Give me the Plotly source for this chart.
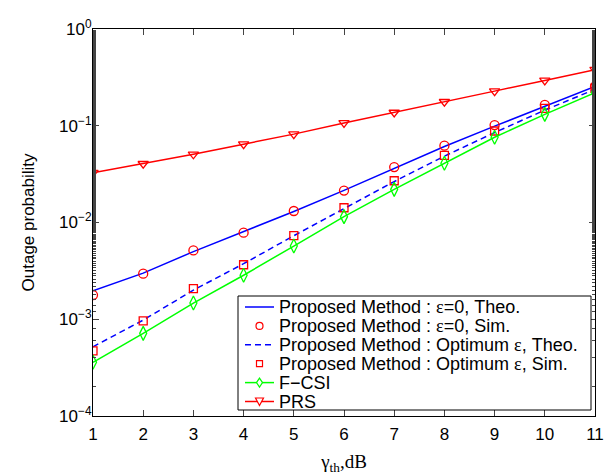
import plotly.graph_objects as go

gamma_th = [1, 2, 3, 4, 5, 6, 7, 8, 9, 10, 11]

eps0_theo = [0.00197, 0.0030, 0.0050, 0.0080, 0.0130, 0.0215, 0.0365, 0.0610, 0.0990, 0.160, 0.255]
eps0_sim = [0.00178, 0.00296, 0.00515, 0.00785, 0.01315, 0.0214, 0.0374, 0.0623, 0.1016, 0.164, 0.255]
opt_theo = [0.00052, 0.00098, 0.00200, 0.00375, 0.0073, 0.0140, 0.0265, 0.0485, 0.0850, 0.145, 0.238]
opt_sim = [0.00047, 0.00096, 0.00207, 0.00366, 0.0073, 0.0142, 0.0270, 0.0494, 0.0883, 0.151, 0.244]
fcsi = [0.000359, 0.000715, 0.00147, 0.00285, 0.00571, 0.0115, 0.0220, 0.0409, 0.0760, 0.131, 0.220]
prs = [0.0327, 0.0405, 0.0507, 0.0645, 0.0819, 0.107, 0.137, 0.177, 0.228, 0.294, 0.380]

EPS = '<span style="font-family:Liberation Serif, Times New Roman, serif">ε</span>'
names = [
    "Proposed Method : ε=0, Theo.",
    "Proposed Method : ε=0, Sim.",
    "Proposed Method : Optimum ε, Theo.",
    "Proposed Method : Optimum ε, Sim.",
    "F\u2212CSI",
    "PRS",
]

y_tickvals = [1e-4, 1e-3, 1e-2, 1e-1, 1]
y_ticktext = ["10<sup>\u22124</sup>", "10<sup>\u22123</sup>", "10<sup>\u22122</sup>",
              "10<sup>\u22121</sup>", "10<sup>0</sup>"]

BLUE, RED, GREEN = "#0000FF", "#FF0000", "#00FF00"
DASH = "6px,4px"

fig = go.Figure()
fig.add_trace(go.Scatter(x=gamma_th, y=eps0_theo, name=names[0], mode="lines",
                         line=dict(color=BLUE, width=1.5)))
fig.add_trace(go.Scatter(x=gamma_th, y=eps0_sim, name=names[1], mode="markers",
                         marker=dict(symbol="circle-open", color=RED, size=9,
                                     line=dict(width=1.3, color=RED))))
fig.add_trace(go.Scatter(x=gamma_th, y=opt_theo, name=names[2], mode="lines",
                         line=dict(color=BLUE, width=1.5, dash=DASH)))
fig.add_trace(go.Scatter(x=gamma_th, y=opt_sim, name=names[3], mode="markers",
                         marker=dict(symbol="square-open", color=RED, size=8,
                                     line=dict(width=1.3, color=RED))))
fig.add_trace(go.Scatter(x=gamma_th, y=fcsi, name=names[4], mode="lines+markers",
                         line=dict(color=GREEN, width=1.5),
                         marker=dict(symbol="diamond-tall-open", color=GREEN, size=10,
                                     line=dict(width=1.3, color=GREEN))))
fig.add_trace(go.Scatter(x=gamma_th, y=prs, name=names[5], mode="lines+markers",
                         line=dict(color=RED, width=1.5),
                         marker=dict(symbol="triangle-down-open", color=RED, size=9,
                                     line=dict(width=1.3, color=RED))))

# ---- manual legend (box, samples, text) in paper coordinates ----
L, R, T, B = 93, 595, 29, 416
def px(v):
    return (v - L) / (R - L)
def py(v):
    return (B - v) / (B - T)

shapes = []
annotations = []
box = dict(x0=238, x1=591, y0=296, y1=410)
shapes.append(dict(type="rect", xref="paper", yref="paper",
                   x0=px(box["x0"]), x1=px(box["x1"]), y0=py(box["y1"]), y1=py(box["y0"]),
                   line=dict(color="black", width=1), fillcolor="white", layer="above"))

legend_items = [
    dict(line=(BLUE, "solid"), marker=None),
    dict(line=None, marker=("circle", RED)),
    dict(line=(BLUE, DASH), marker=None),
    dict(line=None, marker=("square", RED)),
    dict(line=(GREEN, "solid"), marker=("diamond", GREEN)),
    dict(line=(RED, "solid"), marker=("triangle", RED)),
]
x_s0, x_s1 = 245, 274
x_mid = (x_s0 + x_s1) / 2
y_first, y_step = 307, 18.9
for i, (item, name) in enumerate(zip(legend_items, names)):
    yc = y_first + i * y_step
    if item["line"]:
        col, dash = item["line"]
        shapes.append(dict(type="line", xref="paper", yref="paper",
                           x0=px(x_s0), x1=px(x_s1), y0=py(yc), y1=py(yc),
                           line=dict(color=col, width=1.5, dash=dash), layer="above"))
    if item["marker"]:
        kind, col = item["marker"]
        mline = dict(color=col, width=1.2)
        if kind == "circle":
            r = 3.5
            shapes.append(dict(type="circle", xref="paper", yref="paper",
                               x0=px(x_mid - r), x1=px(x_mid + r),
                               y0=py(yc + r), y1=py(yc - r), line=mline, layer="above"))
        elif kind == "square":
            r = 3
            shapes.append(dict(type="rect", xref="paper", yref="paper",
                               x0=px(x_mid - r), x1=px(x_mid + r),
                               y0=py(yc + r), y1=py(yc - r), line=mline, layer="above"))
        elif kind == "diamond":
            w, h = 3, 4.5
            pts = [(x_mid, yc - h), (x_mid + w, yc), (x_mid, yc + h), (x_mid - w, yc)]
            path = "M " + " L ".join(f"{px(a):.5f},{py(b):.5f}" for a, b in pts) + " Z"
            shapes.append(dict(type="path", xref="paper", yref="paper", path=path,
                               line=mline, fillcolor="white", layer="above"))
        elif kind == "triangle":
            w, h = 4, 3.5
            pts = [(x_mid - w, yc - h), (x_mid + w, yc - h), (x_mid, yc + h + 0.5)]
            path = "M " + " L ".join(f"{px(a):.5f},{py(b):.5f}" for a, b in pts) + " Z"
            shapes.append(dict(type="path", xref="paper", yref="paper", path=path,
                               line=mline, fillcolor="white", layer="above"))
    annotations.append(dict(text=name.replace("ε", EPS), xref="paper", yref="paper",
                            x=px(278), y=py(yc), xanchor="left", yanchor="middle",
                            showarrow=False, borderpad=0,
                            font=dict(family="Liberation Sans, Arial, sans-serif",
                                      size=18, color="black")))

font_family = "Liberation Sans, Arial, sans-serif"

fig.update_layout(
    width=615, height=475,
    margin=dict(l=L, r=615 - R, t=T, b=475 - B),
    paper_bgcolor="white", plot_bgcolor="white",
    font=dict(family=font_family, size=17, color="black"),
    showlegend=False,
    shapes=shapes,
    annotations=annotations,
    xaxis=dict(range=[1, 11], tickvals=gamma_th, ticks="inside", ticklen=6,
               showline=True, linecolor="black", linewidth=1, mirror="allticks",
               showgrid=False, zeroline=False, ticklabelstandoff=3, automargin=False,
               tickfont=dict(size=17),
               title=dict(text="γ<sub>th</sub>,dB",
                          font=dict(family="Liberation Serif, Times New Roman, serif", size=19),
                          standoff=14)),
    yaxis=dict(type="log", range=[-4, 0], tickvals=y_tickvals, ticktext=y_ticktext,
               ticks="inside", ticklen=6, showline=True, linecolor="black", linewidth=1,
               mirror="allticks", showgrid=False, zeroline=False, automargin=False,
               ticklabelstandoff=-3,
               tickfont=dict(size=17),
               minor=dict(ticks="inside", ticklen=3, showgrid=False),
               title=dict(text="Outage probability", font=dict(size=17), standoff=20)),
)

fig.write_html("out.html")
